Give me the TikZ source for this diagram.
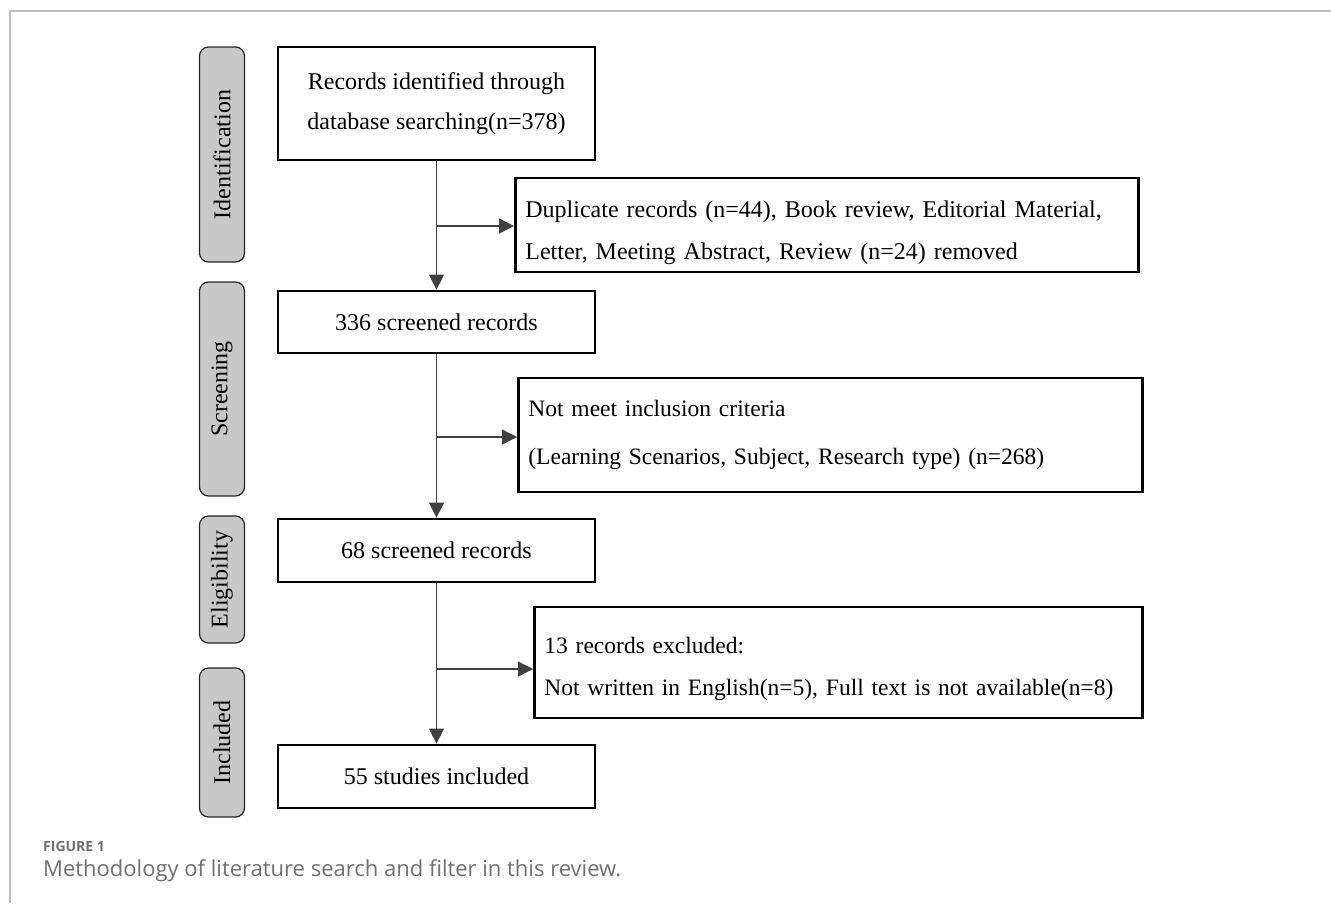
\documentclass[tikz,border=0pt]{standalone}
\usepackage{fontspec}
\setmainfont{Liberation Serif}
\newfontfamily\capfont{Open Sans}
\usetikzlibrary{arrows.meta}
\definecolor{labelgray}{RGB}{200,200,200}
\definecolor{linegray}{RGB}{64,64,64}
\definecolor{framegray}{RGB}{190,190,190}
\definecolor{capgray}{RGB}{112,112,112}
\tikzset{
  stage/.style={draw=black!85, line width=1.2pt, fill=labelgray, rounded corners=9pt,
    rotate=90, minimum height=45pt, inner sep=0pt, font=\fontsize{24}{24}\selectfont},
  mainbox/.style={draw, line width=2.8pt, minimum width=317pt, align=center,
    inner sep=0pt, font=\fontsize{24}{40}\selectfont},
  sidebox/.style={draw, line width=2.8pt, align=left, inner xsep=10pt, inner ysep=0pt,
    anchor=west, font=\fontsize{23.5}{42}\selectfont},
  flow/.style={draw=linegray, line width=1.4pt},
  tip/.style={-{Triangle[length=15pt,width=15pt]}}
}
\begin{document}
\begin{tikzpicture}[x=1pt,y=-1pt]
\useasboundingbox (0,0) rectangle (1331,903);
% frame
\draw[framegray, line width=1.5pt] (10,903) -- (10,11) -- (1331,11);
% stage labels
\foreach \nm/\yc/\len/\txt in {idl/154.5/215/Identification, scl/389/214/Screening,
    ell/579.5/127/Eligibility, inl/742.5/149/Included}{
  \node[stage, minimum width=\len pt] (\nm) at (222,\yc) {\txt};
}
% main column
\node[mainbox, minimum height=113pt] (b1) at (436.5,103.5) {Records identified through\\database searching(n=378)};
\node[mainbox, minimum height=62pt] (b2) at (436.5,322) {336 screened records};
\node[mainbox, minimum height=63pt] (b3) at (436.5,550.5) {68 screened records};
\node[mainbox, minimum height=63pt] (b4) at (436.5,776.5) {55 studies included};
% excluded boxes
\node[sidebox, text width=603pt, minimum height=94pt, font=\fontsize{24}{42}\selectfont] (s1) at (514,225)
  {\rule{0pt}{33pt}Duplicate records (n=44), Book review, Editorial Material,\\Letter, Meeting Abstract, Review (n=24) removed};
\node[sidebox, text width=604pt, minimum height=114pt, font=\fontsize{23.5}{48}\selectfont] (s2) at (517,435)
  {Not meet inclusion criteria\\(Learning Scenarios, Subject, Research type) (n=268)};
\node[sidebox, text width=588pt, minimum height=111pt] (s3) at (533,662.5)
  {\rule{0pt}{29pt}13 records excluded:\\Not written in English(n=5), Full text is not available(n=8)};
% connectors
\draw[flow,tip] (b1) -- (b2);
\draw[flow,tip] (b2) -- (b3);
\draw[flow,tip] (b3) -- (b4);
\coordinate (j1) at (436.5,226);
\coordinate (j2) at (436.5,437);
\coordinate (j3) at (436.5,669);
\draw[flow,tip] (j1) -- (j1 -| s1.west);
\draw[flow,tip] (j2) -- (j2 -| s2.west);
\draw[flow,tip] (j3) -- (j3 -| s3.west);
% caption
\node[anchor=base west, inner sep=0pt, text=capgray, font=\capfont\bfseries\fontsize{14}{14}\selectfont] (fig) at (43,851) {FIGURE 1};
\node[anchor=base west, inner sep=0pt, text=capgray, font=\capfont\fontsize{22}{22}\selectfont] (cap) at (43,876) {Methodology of literature search and filter in this review.};
\end{tikzpicture}
\end{document}
